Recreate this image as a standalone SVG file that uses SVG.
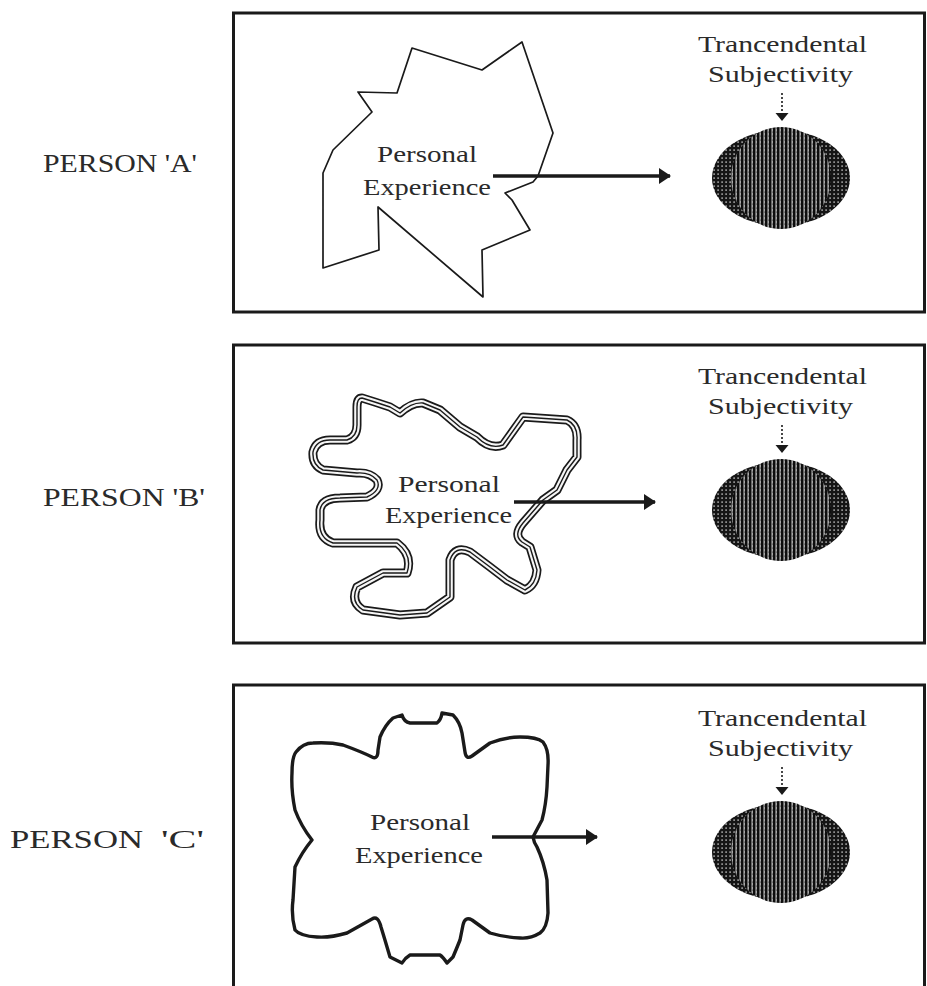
<svg xmlns="http://www.w3.org/2000/svg" xmlns:xlink="http://www.w3.org/1999/xlink" width="927" height="986" viewBox="0 0 927 986">
<style>
.box{fill:none;stroke:#1a1a1a;stroke-width:3}
.lbl{font-family:"Liberation Serif","DejaVu Serif",serif;font-size:25px;fill:#2a2a2a}
.txt{font-family:"Liberation Serif","DejaVu Serif",serif;font-size:24px;fill:#2a2a2a}
.arrow{stroke:#1a1a1a;stroke-width:3.5;fill:none}
.dot{stroke:#1a1a1a;stroke-width:1.6;stroke-dasharray:2 2;fill:none}
.head{fill:#1a1a1a}
.shA{fill:none;stroke:#1a1a1a;stroke-width:1.7;stroke-linejoin:round}
.shB1{fill:none;stroke:#1a1a1a;stroke-width:9;stroke-linejoin:round;stroke-linecap:round}
.shB2{fill:none;stroke:#f6f6f6;stroke-width:5.6;stroke-linejoin:round}
.shB3{fill:none;stroke:#1a1a1a;stroke-width:1.4;stroke-linejoin:round}
.shC{fill:none;stroke:#1a1a1a;stroke-width:3.4;stroke-linejoin:round}
</style>
<defs>
<marker id="ah" markerUnits="userSpaceOnUse" markerWidth="14" markerHeight="18" refX="11" refY="8" orient="auto">
<path d="M0,0 L12,8 L0,16 Z" fill="#1a1a1a"/>
</marker>
<pattern id="dots" patternUnits="userSpaceOnUse" width="4" height="4">
<rect width="4" height="4" fill="#151515"/>
<rect x="1.4" y="1.4" width="1.4" height="1.4" fill="#cfcfcf"/>
</pattern>
<pattern id="stripes" patternUnits="userSpaceOnUse" width="4" height="4">
<rect width="4" height="4" fill="#a8a8a8"/>
<rect x="0" y="0" width="2.4" height="4" fill="#0d0d0d"/>
<rect x="2.8" y="1.5" width="0.9" height="1.2" fill="#444"/>
</pattern>
<clipPath id="clipS"><ellipse cx="0" cy="0" rx="50" ry="51"/></clipPath>
<g id="subj">
<text class="txt" x="698" y="52" textLength="169" lengthAdjust="spacingAndGlyphs">Trancendental</text>
<text class="txt" x="708" y="82" textLength="145" lengthAdjust="spacingAndGlyphs">Subjectivity</text>
<line class="dot" x1="782" y1="93" x2="782" y2="114"/>
<path class="head" d="M775.5,113 L788.5,113 L782,121 Z"/>
<ellipse cx="781" cy="178" rx="69" ry="48" fill="url(#dots)"/>
<g transform="translate(781,178)"><rect x="-50" y="-51" width="100" height="102" fill="url(#stripes)" clip-path="url(#clipS)"/></g>
</g>
<path id="blobB" d="M362,398 Q375,402 390,407 L400,413 Q412,402 423,403 L440,410 L460,427 L477,437 Q490,450 503,445 L523,417 L567,420 Q578,425 577,440 L577,457 L567,470 L557,490 L543,500 L523,523 Q513,535 522,542 L530,547 L537,570 Q536,585 525,590 L507,580 L490,567 L470,552 Q455,545 450,560 L450,597 L427,613 L400,615 L363,610 Q350,602 357,587 L383,573 L407,573 Q413,555 397,543 L333,543 Q318,538 320,520 L320,510 Q322,498 340,498 L367,497 Q382,490 377,480 Q370,472 357,473 L323,470 Q312,465 313,452 Q316,440 330,440 L347,440 Q357,437 357,425 L357,407 Q357,398 362,398 Z"/>
</defs>
<rect width="927" height="986" fill="#ffffff"/>

<g id="panelA">
<rect class="box" x="233.5" y="13" width="691" height="299"/>
<text class="lbl" x="43" y="172" textLength="154" lengthAdjust="spacingAndGlyphs">PERSON 'A'</text>
<g id="expA">
<polygon class="shA" points="412,48 482,70 522,42 553,133 538,176 533,182 505,193 512,200 530,230 482,250 483,297 378,207 379,250 323,268 323,173 333,150 372,112 358,92 397,93"/>
<text class="txt" x="377" y="162" textLength="100" lengthAdjust="spacingAndGlyphs">Personal</text>
<text class="txt" x="363" y="195" textLength="128" lengthAdjust="spacingAndGlyphs">Experience</text>
</g>
<g id="subjA"><use xlink:href="#subj"/></g>
</g>

<g id="panelB">
<rect class="box" x="233.5" y="345" width="691" height="298"/>
<text class="lbl" x="43" y="506" textLength="162" lengthAdjust="spacingAndGlyphs">PERSON 'B'</text>
<g id="expB">
<use xlink:href="#blobB" class="shB1"/>
<use xlink:href="#blobB" class="shB2"/>
<use xlink:href="#blobB" class="shB3"/>
<text class="txt" x="398" y="492" textLength="102" lengthAdjust="spacingAndGlyphs">Personal</text>
<text class="txt" x="385" y="523" textLength="127" lengthAdjust="spacingAndGlyphs">Experience</text>
</g>
<g id="subjB" transform="translate(0,332)"><use xlink:href="#subj"/></g>
</g>

<g id="panelC">
<path class="box" d="M233.5,990 L233.5,685 L924.5,685 L924.5,990"/>
<text class="lbl" x="10" y="848"><tspan textLength="133" lengthAdjust="spacingAndGlyphs">PERSON</tspan><tspan x="161" textLength="43" lengthAdjust="spacingAndGlyphs">'C'</tspan></text>
<g id="expC">
<path class="shC" d="M402,715 Q404,722 410,723 L437,723 Q441,720 442,713 L453,715 Q460,722 462,733 L465,752 Q466,760 472,756 L490,743 Q505,737 520,737 Q537,737 543,742 Q549,750 548,765 L547,787 Q546,805 542,820 L533,837 Q534,843 537,847 Q544,862 547,880 L548,913 Q547,928 540,933 Q530,939 520,938 Q503,937 490,933 L472,920 Q465,916 463,925 L460,940 Q456,950 453,957 L447,963 Q443,957 440,955 L410,955 Q405,958 402,963 L390,957 Q385,940 381,927 Q378,915 372,919 L347,933 Q330,938 317,937 Q300,936 295,930 Q291,915 293,900 L295,867 Q302,852 312,840 Q301,826 295,810 Q291,790 292,773 Q292,757 296,752 Q303,743 313,743 Q330,742 343,745 Q362,752 372,757 Q378,760 378,750 L380,737 Q385,725 393,718 Z"/>
<text class="txt" x="370" y="830" textLength="100" lengthAdjust="spacingAndGlyphs">Personal</text>
<text class="txt" x="355" y="863" textLength="128" lengthAdjust="spacingAndGlyphs">Experience</text>
</g>
<g id="subjC" transform="translate(0,674)"><use xlink:href="#subj"/></g>
</g>

<g id="connectors">
<line class="arrow" x1="493" y1="176" x2="670" y2="176" marker-end="url(#ah)"/>
<line class="arrow" x1="514" y1="502" x2="655" y2="502" marker-end="url(#ah)"/>
<line class="arrow" x1="492" y1="837" x2="597" y2="837" marker-end="url(#ah)"/>
</g>
</svg>
